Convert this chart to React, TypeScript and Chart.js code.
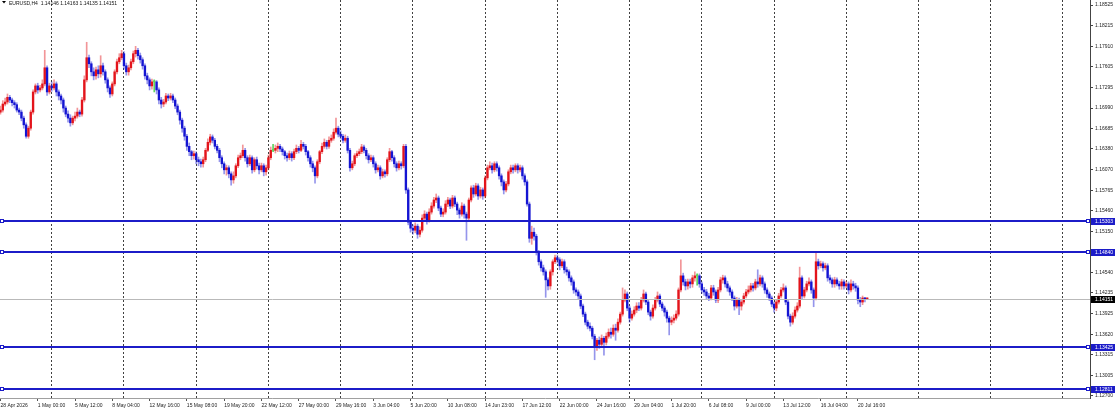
import React, { useEffect, useRef } from "react";
import { Chart, registerables } from "chart.js";

Chart.register(...registerables);

const TITLE = "EURUSD,H4  1.14146 1.14163 1.14135 1.14151";
const FIRST_OPEN = 1.1693;

const CLOSES = [
  1.1696, 1.1705, 1.1708, 1.1715, 1.1711, 1.1707, 1.1704, 1.1696, 1.1693, 1.1684,
  1.1674, 1.1657, 1.1669, 1.1693, 1.1723, 1.1732, 1.1726, 1.1729, 1.1735, 1.1759,
  1.1723, 1.1732, 1.1729, 1.1735, 1.1723, 1.1717, 1.1711, 1.1699, 1.1690, 1.1684,
  1.1677, 1.1684, 1.1687, 1.1693, 1.1690, 1.1711, 1.1741, 1.1774, 1.1765, 1.1753,
  1.1747, 1.1756, 1.1750, 1.1762, 1.1753, 1.1741, 1.1729, 1.1720, 1.1735, 1.1753,
  1.1768, 1.1774, 1.1780, 1.1762, 1.1753, 1.1759, 1.1768, 1.1780, 1.1785, 1.1777,
  1.1771, 1.1762, 1.1747, 1.1741, 1.1732, 1.1738, 1.1738, 1.1726, 1.1711, 1.1705,
  1.1708, 1.1717, 1.1714, 1.1717, 1.1711, 1.1702, 1.1693, 1.1681, 1.1669, 1.1657,
  1.1642, 1.1634, 1.1628, 1.1631, 1.1622, 1.1619, 1.1616, 1.1622, 1.1636, 1.1648,
  1.1656, 1.1651, 1.1642, 1.1636, 1.1625, 1.1616, 1.1607, 1.1610, 1.1601, 1.1592,
  1.1598, 1.1613, 1.1625, 1.1628, 1.1636, 1.1625, 1.1616, 1.1625, 1.1607, 1.1622,
  1.1613, 1.1607, 1.1613, 1.1604, 1.1610, 1.1625, 1.1636, 1.1636, 1.1639, 1.1642,
  1.1638, 1.1634, 1.1628, 1.1625, 1.1631, 1.1625, 1.1634, 1.1639, 1.1636, 1.1645,
  1.1642, 1.1634, 1.1625, 1.1616, 1.1610, 1.1598, 1.1619, 1.1634, 1.1642, 1.1648,
  1.1642, 1.1651, 1.1654, 1.1663, 1.1669, 1.1660, 1.1657, 1.1651, 1.1654, 1.1636,
  1.1610, 1.1616, 1.1628, 1.1631, 1.1634, 1.1641, 1.1636, 1.1628, 1.1622, 1.1625,
  1.1616, 1.1607, 1.1610, 1.1598, 1.1604, 1.1601, 1.1622, 1.1634, 1.1625, 1.1616,
  1.1610, 1.1616, 1.1613, 1.1642, 1.1577, 1.1529, 1.1520, 1.1517, 1.1523, 1.1511,
  1.1517, 1.1535, 1.1541, 1.1532, 1.1544, 1.1553, 1.1562, 1.1565, 1.1550, 1.1541,
  1.1544, 1.1556, 1.1562, 1.1553, 1.1565, 1.1556, 1.1547, 1.1541, 1.1553, 1.1541,
  1.1535, 1.1562, 1.1580, 1.1571, 1.1583, 1.1568, 1.1577, 1.1568, 1.1595, 1.1610,
  1.1613, 1.1607, 1.1616, 1.1610, 1.1598, 1.1589, 1.1577, 1.1586, 1.1604, 1.1610,
  1.1607, 1.1613, 1.1607, 1.1610, 1.1598, 1.1589, 1.1556, 1.1505, 1.1514, 1.1508,
  1.1485, 1.1470, 1.1461, 1.1455, 1.1443, 1.1434, 1.1455, 1.1470, 1.1476, 1.1473,
  1.1464, 1.1470, 1.1458, 1.1455, 1.1446, 1.1440, 1.1428, 1.1425, 1.1419, 1.1404,
  1.1392, 1.1380, 1.1374, 1.1371, 1.1359, 1.1344, 1.1353, 1.1347, 1.1356, 1.1350,
  1.1359, 1.1365, 1.1362, 1.1371, 1.1368, 1.1380, 1.1392, 1.1413, 1.1422, 1.1401,
  1.1386, 1.1392, 1.1398, 1.1404, 1.1401, 1.1413, 1.1422, 1.1410, 1.1395, 1.1389,
  1.1401, 1.1413, 1.1419, 1.1407, 1.1401, 1.1395, 1.1386, 1.1380, 1.1383, 1.1386,
  1.1392, 1.1428, 1.1449, 1.1440, 1.1434, 1.1440, 1.1437, 1.1446, 1.1449, 1.1449,
  1.1437, 1.1428, 1.1425, 1.1419, 1.1416, 1.1431, 1.1425, 1.1413, 1.1428, 1.1443,
  1.1446, 1.1437, 1.1431, 1.1425, 1.1416, 1.1404, 1.1413, 1.1404, 1.1410, 1.1419,
  1.1425, 1.1428, 1.1434, 1.1431, 1.1440, 1.1437, 1.1446, 1.1437, 1.1428, 1.1422,
  1.1416, 1.1407, 1.1401, 1.1410, 1.1419, 1.1428, 1.1431, 1.1410, 1.1389, 1.1380,
  1.1389, 1.1398, 1.1404, 1.1446, 1.1419, 1.1428, 1.1437, 1.1440, 1.1428, 1.1416,
  1.1470, 1.1464, 1.1467, 1.1461, 1.1464, 1.1446, 1.1443, 1.1437, 1.1443, 1.1437,
  1.1434, 1.1440, 1.1434, 1.1437, 1.1428, 1.1437, 1.1434, 1.1431, 1.1413, 1.1410,
  1.1416, 1.14146, 1.14151,
];

const HIGHS = [
  1.1702, 1.1710, 1.1714, 1.1720, 1.1718, 1.1714, 1.1710, 1.1707, 1.1699, 1.1696,
  1.1687, 1.1677, 1.1672, 1.1696, 1.1726, 1.1735, 1.1736, 1.1733, 1.1741, 1.1785,
  1.1762, 1.1736, 1.1738, 1.1741, 1.1738, 1.1726, 1.1720, 1.1714, 1.1702, 1.1695,
  1.1689, 1.1687, 1.1693, 1.1699, 1.1696, 1.1715, 1.1747, 1.1797, 1.1778, 1.1768,
  1.1759, 1.1760, 1.1762, 1.1777, 1.1766, 1.1756, 1.1744, 1.1732, 1.1738, 1.1756,
  1.1772, 1.1780, 1.1785, 1.1783, 1.1766, 1.1763, 1.1772, 1.1784, 1.1791, 1.1788,
  1.1781, 1.1774, 1.1765, 1.1751, 1.1744, 1.1742, 1.1741, 1.1740, 1.1729, 1.1715,
  1.1712, 1.1721, 1.1720, 1.1721, 1.1720, 1.1714, 1.1705, 1.1696, 1.1684, 1.1672,
  1.1660, 1.1647, 1.1636, 1.1635, 1.1634, 1.1626, 1.1623, 1.1626, 1.1639, 1.1653,
  1.1660, 1.1659, 1.1654, 1.1645, 1.1639, 1.1628, 1.1619, 1.1614, 1.1613, 1.1604,
  1.1604, 1.1616, 1.1629, 1.1632, 1.1644, 1.1639, 1.1628, 1.1629, 1.1628, 1.1625,
  1.1626, 1.1617, 1.1617, 1.1616, 1.1614, 1.1629, 1.1641, 1.1645, 1.1644, 1.1647,
  1.1645, 1.1641, 1.1636, 1.1632, 1.1635, 1.1634, 1.1638, 1.1644, 1.1642, 1.1651,
  1.1648, 1.1645, 1.1636, 1.1628, 1.1620, 1.1613, 1.1622, 1.1636, 1.1647, 1.1653,
  1.1651, 1.1656, 1.1659, 1.1668, 1.1684, 1.1672, 1.1665, 1.1660, 1.1659, 1.1657,
  1.1639, 1.1620, 1.1631, 1.1635, 1.1638, 1.1645, 1.1644, 1.1639, 1.1631, 1.1629,
  1.1628, 1.1619, 1.1614, 1.1613, 1.1608, 1.1607, 1.1625, 1.1639, 1.1636, 1.1628,
  1.1619, 1.1620, 1.1619, 1.1645, 1.1645, 1.1580, 1.1532, 1.1525, 1.1528, 1.1526,
  1.1522, 1.1540, 1.1546, 1.1544, 1.1549, 1.1558, 1.1566, 1.1571, 1.1568, 1.1553,
  1.1549, 1.1561, 1.1566, 1.1565, 1.1569, 1.1568, 1.1559, 1.1550, 1.1558, 1.1556,
  1.1544, 1.1565, 1.1583, 1.1584, 1.1587, 1.1586, 1.1581, 1.1580, 1.1598, 1.1614,
  1.1619, 1.1617, 1.1619, 1.1619, 1.1613, 1.1601, 1.1592, 1.1590, 1.1607, 1.1614,
  1.1614, 1.1616, 1.1616, 1.1614, 1.1613, 1.1601, 1.1592, 1.1559, 1.1523, 1.1520,
  1.1511, 1.1487, 1.1473, 1.1465, 1.1458, 1.1446, 1.1458, 1.1473, 1.1480, 1.1480,
  1.1476, 1.1474, 1.1473, 1.1462, 1.1458, 1.1449, 1.1443, 1.1431, 1.1428, 1.1422,
  1.1407, 1.1395, 1.1383, 1.1379, 1.1374, 1.1362, 1.1356, 1.1358, 1.1361, 1.1359,
  1.1364, 1.1370, 1.1371, 1.1376, 1.1377, 1.1385, 1.1395, 1.1431, 1.1428, 1.1425,
  1.1404, 1.1397, 1.1403, 1.1409, 1.1409, 1.1417, 1.1428, 1.1425, 1.1413, 1.1398,
  1.1406, 1.1417, 1.1425, 1.1422, 1.1410, 1.1404, 1.1398, 1.1389, 1.1388, 1.1391,
  1.1397, 1.1431, 1.1473, 1.1453, 1.1444, 1.1444, 1.1444, 1.1450, 1.1455, 1.1452,
  1.1452, 1.1440, 1.1432, 1.1429, 1.1423, 1.1435, 1.1435, 1.1428, 1.1432, 1.1447,
  1.1450, 1.1449, 1.1441, 1.1434, 1.1428, 1.1419, 1.1417, 1.1416, 1.1414, 1.1423,
  1.1429, 1.1434, 1.1438, 1.1438, 1.1444, 1.1458, 1.1450, 1.1449, 1.1440, 1.1431,
  1.1425, 1.1419, 1.1410, 1.1414, 1.1423, 1.1432, 1.1437, 1.1434, 1.1413, 1.1392,
  1.1394, 1.1403, 1.1409, 1.1462, 1.1449, 1.1432, 1.1441, 1.1446, 1.1443, 1.1431,
  1.1483, 1.1474, 1.1471, 1.1470, 1.1468, 1.1467, 1.1450, 1.1446, 1.1447, 1.1446,
  1.1441, 1.1444, 1.1443, 1.1441, 1.1440, 1.1443, 1.1441, 1.1438, 1.1434, 1.1417,
  1.1419, 1.1417, 1.14163,
];

const LOWS = [
  1.1690, 1.1693, 1.1702, 1.1705, 1.1707, 1.1702, 1.1699, 1.1693, 1.1689, 1.1680,
  1.1669, 1.1654, 1.1654, 1.1666, 1.1690, 1.1720, 1.1721, 1.1723, 1.1726, 1.1732,
  1.1718, 1.1720, 1.1724, 1.1726, 1.1717, 1.1711, 1.1705, 1.1693, 1.1686, 1.1678,
  1.1672, 1.1674, 1.1680, 1.1684, 1.1686, 1.1687, 1.1708, 1.1738, 1.1759, 1.1747,
  1.1741, 1.1742, 1.1744, 1.1745, 1.1748, 1.1736, 1.1723, 1.1715, 1.1717, 1.1732,
  1.1750, 1.1765, 1.1771, 1.1757, 1.1748, 1.1748, 1.1756, 1.1765, 1.1775, 1.1772,
  1.1766, 1.1757, 1.1742, 1.1735, 1.1726, 1.1727, 1.1723, 1.1720, 1.1705, 1.1699,
  1.1701, 1.1705, 1.1710, 1.1711, 1.1707, 1.1698, 1.1689, 1.1675, 1.1663, 1.1651,
  1.1636, 1.1628, 1.1622, 1.1623, 1.1616, 1.1613, 1.1611, 1.1611, 1.1619, 1.1634,
  1.1644, 1.1647, 1.1638, 1.1632, 1.1619, 1.1610, 1.1601, 1.1599, 1.1595, 1.1584,
  1.1587, 1.1595, 1.1610, 1.1622, 1.1625, 1.1620, 1.1611, 1.1613, 1.1602, 1.1604,
  1.1608, 1.1601, 1.1604, 1.1598, 1.1599, 1.1607, 1.1622, 1.1634, 1.1632, 1.1634,
  1.1634, 1.1629, 1.1623, 1.1620, 1.1622, 1.1620, 1.1622, 1.1631, 1.1632, 1.1634,
  1.1638, 1.1629, 1.1620, 1.1611, 1.1604, 1.1587, 1.1595, 1.1616, 1.1631, 1.1639,
  1.1638, 1.1639, 1.1648, 1.1651, 1.1660, 1.1656, 1.1653, 1.1647, 1.1648, 1.1632,
  1.1605, 1.1607, 1.1613, 1.1625, 1.1628, 1.1631, 1.1632, 1.1623, 1.1617, 1.1619,
  1.1611, 1.1602, 1.1604, 1.1593, 1.1595, 1.1596, 1.1598, 1.1619, 1.1620, 1.1611,
  1.1605, 1.1607, 1.1608, 1.1610, 1.1572, 1.1525, 1.1514, 1.1511, 1.1513, 1.1505,
  1.1507, 1.1514, 1.1532, 1.1526, 1.1529, 1.1541, 1.1550, 1.1558, 1.1546, 1.1537,
  1.1537, 1.1541, 1.1552, 1.1549, 1.1550, 1.1552, 1.1540, 1.1535, 1.1538, 1.1535,
  1.1502, 1.1532, 1.1559, 1.1566, 1.1568, 1.1563, 1.1565, 1.1563, 1.1565, 1.1592,
  1.1607, 1.1602, 1.1604, 1.1605, 1.1593, 1.1583, 1.1571, 1.1574, 1.1583, 1.1601,
  1.1602, 1.1604, 1.1602, 1.1604, 1.1593, 1.1584, 1.1553, 1.1499, 1.1496, 1.1502,
  1.1480, 1.1465, 1.1456, 1.1450, 1.1417, 1.1428, 1.1429, 1.1450, 1.1467, 1.1468,
  1.1458, 1.1461, 1.1453, 1.1450, 1.1441, 1.1435, 1.1423, 1.1420, 1.1414, 1.1400,
  1.1388, 1.1376, 1.1370, 1.1367, 1.1355, 1.1324, 1.1338, 1.1341, 1.1344, 1.1331,
  1.1346, 1.1356, 1.1356, 1.1359, 1.1353, 1.1365, 1.1377, 1.1389, 1.1410, 1.1397,
  1.1380, 1.1383, 1.1389, 1.1394, 1.1397, 1.1398, 1.1410, 1.1406, 1.1391, 1.1383,
  1.1386, 1.1398, 1.1410, 1.1403, 1.1397, 1.1389, 1.1380, 1.1361, 1.1376, 1.1379,
  1.1383, 1.1389, 1.1425, 1.1435, 1.1428, 1.1429, 1.1431, 1.1432, 1.1441, 1.1435,
  1.1432, 1.1423, 1.1420, 1.1414, 1.1412, 1.1413, 1.1420, 1.1409, 1.1409, 1.1425,
  1.1438, 1.1432, 1.1426, 1.1420, 1.1412, 1.1398, 1.1401, 1.1391, 1.1398, 1.1407,
  1.1416, 1.1422, 1.1425, 1.1426, 1.1428, 1.1432, 1.1434, 1.1432, 1.1423, 1.1417,
  1.1412, 1.1403, 1.1395, 1.1397, 1.1407, 1.1416, 1.1425, 1.1406, 1.1385, 1.1374,
  1.1377, 1.1386, 1.1395, 1.1401, 1.1414, 1.1416, 1.1425, 1.1434, 1.1423, 1.1403,
  1.1413, 1.1459, 1.1461, 1.1456, 1.1458, 1.1441, 1.1438, 1.1432, 1.1432, 1.1434,
  1.1429, 1.1429, 1.1429, 1.1431, 1.1422, 1.1425, 1.1429, 1.1426, 1.1407, 1.1403,
  1.1406, 1.1410, 1.14135,
];

const X_LABELS = [
  "28 Apr 2026", "1 May 00:00", "5 May 12:00", "8 May 04:00", "12 May 16:00",
  "15 May 08:00", "19 May 20:00", "22 May 12:00", "27 May 00:00", "29 May 16:00",
  "3 Jun 04:00", "5 Jun 20:00", "10 Jun 08:00", "14 Jun 23:00", "17 Jun 12:00",
  "22 Jun 00:00", "24 Jun 16:00", "29 Jun 04:00", "1 Jul 20:00", "6 Jul 08:00",
  "9 Jul 00:00", "13 Jul 12:00", "16 Jul 04:00", "20 Jul 16:00",
];
const LABEL_EVERY = 16;
const GRID_BARS = [22, 53, 84, 115, 146, 177, 208, 239, 270, 301, 332, 363, 394, 425, 456];

const Y_TICKS = [
  1.18525, 1.18215, 1.1791, 1.17605, 1.17295, 1.1699, 1.16685, 1.1638, 1.1607, 1.15765,
  1.1546, 1.1515, 1.14845, 1.1454, 1.14235, 1.13925, 1.1362, 1.13315, 1.13005, 1.127,
];
const LEVELS = [1.15303, 1.1484, 1.13425, 1.12811];
const CURRENT = CLOSES[CLOSES.length - 1];

const Y_MIN = 1.1267;
const Y_MAX = 1.186;
const X_MIN = -0.2;
const X_MAX = 467.6;

const UP = "#e3141b";
const DOWN = "#1414d2";
const DOJI = "#5fd35f";
const UP_WICK = "rgba(227,20,27,0.45)";
const DOWN_WICK = "rgba(20,20,210,0.45)";
const LEVEL_COLOR = "#1c1cc8";
const FONT_FAMILY = "'Liberation Sans', Arial, sans-serif";

const OPENS = CLOSES.map((_, i) => (i === 0 ? FIRST_OPEN : CLOSES[i - 1]));

function bodyColor(i: number) {
  if (CLOSES[i] > OPENS[i]) return UP;
  if (CLOSES[i] < OPENS[i]) return DOWN;
  return DOJI;
}
function wickColor(i: number) {
  if (CLOSES[i] > OPENS[i]) return UP_WICK;
  if (CLOSES[i] < OPENS[i]) return DOWN_WICK;
  return DOJI;
}

const overlayPlugin = {
  id: "mt4overlay",
  beforeDraw(chart: any) {
    const { ctx, width, height } = chart;
    ctx.save();
    ctx.fillStyle = "#ffffff";
    ctx.fillRect(0, 0, width, height);
    ctx.restore();
  },
  afterDatasetsDraw(chart: any) {
    const { ctx, chartArea: a } = chart;
    const y = chart.scales.y;
    ctx.save();
    const cy = Math.round(y.getPixelForValue(CURRENT)) + 0.5;
    ctx.strokeStyle = "#b9b9b9";
    ctx.lineWidth = 1;
    ctx.beginPath();
    ctx.moveTo(a.left, cy);
    ctx.lineTo(a.right, cy);
    ctx.stroke();
    LEVELS.forEach((v) => {
      const py = Math.round(y.getPixelForValue(v));
      ctx.strokeStyle = LEVEL_COLOR;
      ctx.lineWidth = 2;
      ctx.beginPath();
      ctx.moveTo(a.left, py);
      ctx.lineTo(a.right, py);
      ctx.stroke();
      ctx.lineWidth = 1;
      ctx.fillStyle = "#ffffff";
      ctx.fillRect(a.left + 0.5, py - 1.5, 3, 3);
      ctx.strokeRect(a.left + 0.5, py - 1.5, 3, 3);
      ctx.fillRect(a.right - 3.5, py - 1.5, 3, 3);
      ctx.strokeRect(a.right - 3.5, py - 1.5, 3, 3);
    });
    ctx.restore();
  },
  afterDraw(chart: any) {
    const { ctx, chartArea: a, width } = chart;
    const y = chart.scales.y;
    ctx.save();
    ctx.font = `5px ${FONT_FAMILY}`;
    ctx.textBaseline = "middle";
    const box = (v: number, fill: string) => {
      const py = Math.round(y.getPixelForValue(v));
      ctx.fillStyle = fill;
      ctx.fillRect(a.right + 1, py - 3, width - a.right - 1, 7);
      ctx.fillStyle = "#ffffff";
      ctx.textAlign = "left";
      ctx.fillText(v.toFixed(5), a.right + 5, py + 0.5);
    };
    LEVELS.forEach((v) => box(v, LEVEL_COLOR));
    box(CURRENT, "#000000");

    // title
    ctx.fillStyle = "#000000";
    ctx.beginPath();
    ctx.moveTo(2, 1);
    ctx.lineTo(6, 1);
    ctx.lineTo(4, 3.5);
    ctx.closePath();
    ctx.fill();
    ctx.textBaseline = "alphabetic";
    ctx.fillStyle = "#111111";
    ctx.fillText(TITLE, 9, 4.5);
    ctx.restore();
  },
};

export default function App() {
  const ref = useRef<HTMLCanvasElement>(null);
  useEffect(() => {
    document.body.style.margin = "0";
    const font = { family: FONT_FAMILY, size: 5 };
    const bodies = CLOSES.map((c, i) => ({ x: i, y: [OPENS[i], c] }));
    const wicks = CLOSES.map((_, i) => ({ x: i, y: [LOWS[i], HIGHS[i]] }));
    const chart = new Chart(ref.current as HTMLCanvasElement, {
      type: "bar",
      data: {
        datasets: [
          {
            label: "body",
            data: bodies as any,
            backgroundColor: CLOSES.map((_, i) => bodyColor(i)),
            barThickness: 1.7,
            minBarLength: 1,
            grouped: false,
            order: 0,
            borderWidth: 0,
          } as any,
          {
            label: "wick",
            data: wicks as any,
            backgroundColor: CLOSES.map((_, i) => wickColor(i)),
            barThickness: 1,
            grouped: false,
            order: 1,
            borderWidth: 0,
          } as any,
        ],
      },
      options: {
        animation: false,
        responsive: false,
        devicePixelRatio: 1,
        events: [],
        layout: { autoPadding: false, padding: 0 },
        plugins: { legend: { display: false }, tooltip: { enabled: false } },
        scales: {
          x: {
            type: "linear",
            position: "bottom",
            min: X_MIN,
            max: X_MAX,
            offset: false,
            afterBuildTicks: (s: any) => {
              s.ticks = X_LABELS.map((_, k) => ({ value: k * LABEL_EVERY }));
            },
            afterFit: (s: any) => {
              s.height = 16;
              s.paddingLeft = 0;
              s.paddingRight = 0;
              s.paddingTop = 0;
              s.paddingBottom = 0;
            },
            ticks: {
              autoSkip: false,
              maxRotation: 0,
              minRotation: 0,
              align: "start",
              padding: 2,
              font,
              color: "#222222",
              callback: (_v: any, i: number) => X_LABELS[i],
            },
            grid: { drawOnChartArea: false, drawTicks: true, tickLength: 3, color: "#555555", offset: false },
            border: { display: true, color: "#a0a0a0" },
          },
          xg: {
            type: "linear",
            position: "top",
            min: X_MIN,
            max: X_MAX,
            offset: false,
            afterBuildTicks: (s: any) => {
              s.ticks = GRID_BARS.map((v) => ({ value: v }));
            },
            afterFit: (s: any) => {
              s.height = 0;
              s.paddingLeft = 0;
              s.paddingRight = 0;
              s.paddingTop = 0;
              s.paddingBottom = 0;
            },
            ticks: { display: false },
            grid: { drawTicks: false, color: "rgba(0,0,0,0.75)", lineWidth: 1, offset: false },
            border: { display: false, dash: [2, 2] },
          },
          y: {
            type: "linear",
            position: "right",
            min: Y_MIN,
            max: Y_MAX,
            afterBuildTicks: (s: any) => {
              s.ticks = Y_TICKS.map((v) => ({ value: v }));
            },
            afterFit: (s: any) => {
              s.width = 25;
              s.paddingLeft = 0;
              s.paddingRight = 0;
              s.paddingTop = 0;
              s.paddingBottom = 0;
            },
            ticks: {
              font,
              color: "#222222",
              padding: 2,
              autoSkip: false,
              callback: (v: any) => Number(v).toFixed(5),
            },
            grid: { drawOnChartArea: false, drawTicks: true, tickLength: 3, color: "#444444" },
            border: { display: true, color: "#444444" },
          },
        } as any,
      },
      plugins: [overlayPlugin],
    });
    return () => chart.destroy();
  }, []);
  return (
    <div style={{ width: 1115, height: 414, position: "relative", background: "#ffffff" }}>
      <canvas ref={ref} width={1115} height={414} style={{ display: "block" }} />
    </div>
  );
}
